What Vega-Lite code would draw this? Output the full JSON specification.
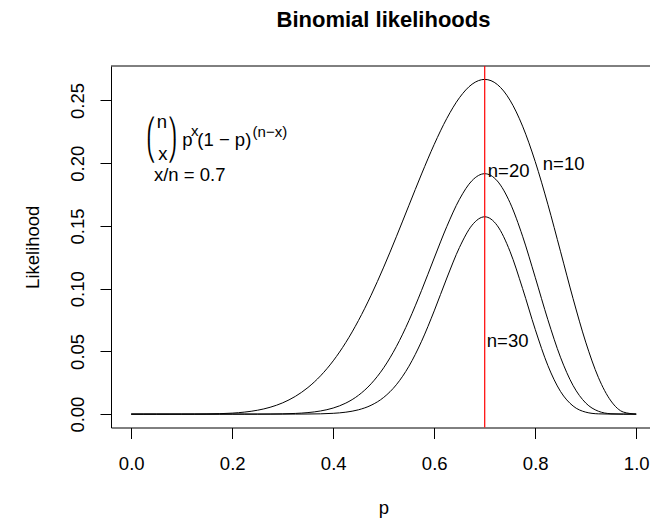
{
  "$schema": "https://vega.github.io/schema/vega-lite/v6.json",
  "autosize": {"type": "none"},
  "width": 539,
  "height": 361.5,
  "padding": {"left": 111, "top": 66, "right": 0, "bottom": 90.5},
  "background": "white",
  "config": {"view": {"stroke": null}},
  "title": {"text": "Binomial likelihoods", "font": "Liberation Sans", "fontSize": 22, "fontWeight": "bold", "color": "black", "anchor": "middle", "frame": "group", "baseline": "alphabetic", "offset": 16, "dx": 3},
  "datasets": {
    "curves": [
      {"n": "10", "p": 0, "L": 0}, {"n": "10", "p": 0.025, "L": 6.8e-10}, {"n": "10", "p": 0.05, "L": 8.04e-8}, {"n": "10", "p": 0.075, "L": 1.268e-6},
      {"n": "10", "p": 0.1, "L": 8.748e-6}, {"n": "10", "p": 0.125, "L": 3.833e-5}, {"n": "10", "p": 0.15, "L": 1.2591e-4}, {"n": "10", "p": 0.175, "L": 3.387e-4},
      {"n": "10", "p": 0.2, "L": 7.8643e-4}, {"n": "10", "p": 0.225, "L": 0.00163066}, {"n": "10", "p": 0.25, "L": 0.0030899}, {"n": "10", "p": 0.275, "L": 0.00543906},
      {"n": "10", "p": 0.3, "L": 0.00900169}, {"n": "10", "p": 0.325, "L": 0.0141343}, {"n": "10", "p": 0.35, "L": 0.021203}, {"n": "10", "p": 0.375, "L": 0.030552},
      {"n": "10", "p": 0.4, "L": 0.0424673}, {"n": "10", "p": 0.425, "L": 0.0571356}, {"n": "10", "p": 0.45, "L": 0.074603}, {"n": "10", "p": 0.475, "L": 0.0947358},
      {"n": "10", "p": 0.5, "L": 0.1171875}, {"n": "10", "p": 0.525, "L": 0.141377}, {"n": "10", "p": 0.55, "L": 0.166477}, {"n": "10", "p": 0.575, "L": 0.191436},
      {"n": "10", "p": 0.6, "L": 0.214991}, {"n": "10", "p": 0.625, "L": 0.235741}, {"n": "10", "p": 0.65, "L": 0.25222}, {"n": "10", "p": 0.675, "L": 0.263002},
      {"n": "10", "p": 0.7, "L": 0.266828}, {"n": "10", "p": 0.725, "L": 0.262752}, {"n": "10", "p": 0.75, "L": 0.250282}, {"n": "10", "p": 0.775, "L": 0.229531},
      {"n": "10", "p": 0.8, "L": 0.201327}, {"n": "10", "p": 0.825, "L": 0.167292}, {"n": "10", "p": 0.85, "L": 0.129834}, {"n": "10", "p": 0.875, "L": 0.0920381},
      {"n": "10", "p": 0.9, "L": 0.0573956}, {"n": "10", "p": 0.925, "L": 0.029333}, {"n": "10", "p": 0.95, "L": 0.0104751}, {"n": "10", "p": 0.975, "L": 0.00157049},
      {"n": "10", "p": 1, "L": 0},
      {"n": "20", "p": 0, "L": 0}, {"n": "20", "p": 0.025, "L": 0}, {"n": "20", "p": 0.05, "L": 0}, {"n": "20", "p": 0.075, "L": 4.3e-12},
      {"n": "20", "p": 0.1, "L": 2.06e-10}, {"n": "20", "p": 0.125, "L": 3.955e-9}, {"n": "20", "p": 0.15, "L": 4.27e-8}, {"n": "20", "p": 0.175, "L": 3.088e-7},
      {"n": "20", "p": 0.2, "L": 1.6647e-6}, {"n": "20", "p": 0.225, "L": 7.1573e-6}, {"n": "20", "p": 0.25, "L": 2.5699e-5}, {"n": "20", "p": 0.275, "L": 7.9629e-5},
      {"n": "20", "p": 0.3, "L": 2.18108e-4}, {"n": "20", "p": 0.325, "L": 5.37737e-4}, {"n": "20", "p": 0.35, "L": 0.00121009}, {"n": "20", "p": 0.375, "L": 0.00251247},
      {"n": "20", "p": 0.4, "L": 0.00485434}, {"n": "20", "p": 0.425, "L": 0.00878689}, {"n": "20", "p": 0.45, "L": 0.0149808}, {"n": "20", "p": 0.475, "L": 0.0241574},
      {"n": "20", "p": 0.5, "L": 0.0369644}, {"n": "20", "p": 0.525, "L": 0.0537996}, {"n": "20", "p": 0.55, "L": 0.0745987}, {"n": "20", "p": 0.575, "L": 0.0986434},
      {"n": "20", "p": 0.6, "L": 0.124412}, {"n": "20", "p": 0.625, "L": 0.149586}, {"n": "20", "p": 0.65, "L": 0.17123}, {"n": "20", "p": 0.675, "L": 0.186182},
      {"n": "20", "p": 0.7, "L": 0.19164}, {"n": "20", "p": 0.725, "L": 0.185829}, {"n": "20", "p": 0.75, "L": 0.16861}, {"n": "20", "p": 0.775, "L": 0.141809},
      {"n": "20", "p": 0.8, "L": 0.1091}, {"n": "20", "p": 0.825, "L": 0.0753308}, {"n": "20", "p": 0.85, "L": 0.0453732}, {"n": "20", "p": 0.875, "L": 0.0228011},
      {"n": "20", "p": 0.9, "L": 0.00886705}, {"n": "20", "p": 0.925, "L": 0.00231598}, {"n": "20", "p": 0.95, "L": 2.95348e-4}, {"n": "20", "p": 0.975, "L": 6.6388e-6},
      {"n": "20", "p": 1, "L": 0},
      {"n": "30", "p": 0, "L": 0}, {"n": "30", "p": 0.025, "L": 0}, {"n": "30", "p": 0.05, "L": 0}, {"n": "30", "p": 0.075, "L": 0},
      {"n": "30", "p": 0.1, "L": 0}, {"n": "30", "p": 0.125, "L": 0}, {"n": "30", "p": 0.15, "L": 1.65e-11}, {"n": "30", "p": 0.175, "L": 3.2e-10},
      {"n": "30", "p": 0.2, "L": 4.03e-9}, {"n": "30", "p": 0.225, "L": 3.59e-8}, {"n": "30", "p": 0.25, "L": 2.4426e-7}, {"n": "30", "p": 0.275, "L": 1.3322e-6},
      {"n": "30", "p": 0.3, "L": 6.0392e-6}, {"n": "30", "p": 0.325, "L": 2.33794e-5}, {"n": "30", "p": 0.35, "L": 7.8923e-5}, {"n": "30", "p": 0.375, "L": 2.36118e-4},
      {"n": "30", "p": 0.4, "L": 6.34121e-4}, {"n": "30", "p": 0.425, "L": 0.0015443}, {"n": "30", "p": 0.45, "L": 0.00343778}, {"n": "30", "p": 0.475, "L": 0.00703966},
      {"n": "30", "p": 0.5, "L": 0.0133245}, {"n": "30", "p": 0.525, "L": 0.0233964}, {"n": "30", "p": 0.55, "L": 0.038201}, {"n": "30", "p": 0.575, "L": 0.0580872},
      {"n": "30", "p": 0.6, "L": 0.0822751}, {"n": "30", "p": 0.625, "L": 0.108472}, {"n": "30", "p": 0.65, "L": 0.132845}, {"n": "30", "p": 0.675, "L": 0.15062},
      {"n": "30", "p": 0.7, "L": 0.157292}, {"n": "30", "p": 0.725, "L": 0.150192}, {"n": "30", "p": 0.75, "L": 0.129809}, {"n": "30", "p": 0.775, "L": 0.100124},
      {"n": "30", "p": 0.8, "L": 0.0675643}, {"n": "30", "p": 0.825, "L": 0.0387647}, {"n": "30", "p": 0.85, "L": 0.018121}, {"n": "30", "p": 0.875, "L": 0.00645533},
      {"n": "30", "p": 0.9, "L": 0.00156548}, {"n": "30", "p": 0.925, "L": 2.08969e-4}, {"n": "30", "p": 0.95, "L": 9.5165e-6}, {"n": "30", "p": 0.975, "L": 3.2e-8},
      {"n": "30", "p": 1, "L": 0}
    ],
    "texts": [
      {"p": 0.8150, "L": 0.19459, "label": "n=10"},
      {"p": 0.7061, "L": 0.18925, "label": "n=20"},
      {"p": 0.7042, "L": 0.05374, "label": "n=30"},
      {"p": 0.0451, "L": 0.18543, "label": "x/n = 0.7"},
      {"p": 0.1012, "L": 0.21349, "label": "p"},
      {"p": 0.1309, "L": 0.21349, "label": "(1 − p)"},
      {"p": 0.0507, "L": 0.22784, "label": "n"},
      {"p": 0.0535, "L": 0.20257, "label": "x"}
    ],
    "sups": [
      {"p": 0.1186, "L": 0.22170, "label": "x"},
      {"p": 0.2404, "L": 0.22090, "label": "(n−x)"}
    ],
    "parens": [
      {"p": 0.0390, "L": 0.22266, "label": "⎛"},
      {"p": 0.0390, "L": 0.20456, "label": "⎝"},
      {"p": 0.0816, "L": 0.22266, "label": "⎞"},
      {"p": 0.0816, "L": 0.20456, "label": "⎠"}
    ],
    "vline": [{"p": 0.7}],
    "frame": [{"L": 0.277501}]
  },
  "layer": [
    {
      "data": {"name": "curves"},
      "mark": {"type": "line", "interpolate": "monotone", "color": "black", "strokeWidth": 1},
      "encoding": {
        "x": {"field": "p", "type": "quantitative", "scale": {"domain": [-0.04, 1.0273], "nice": false, "zero": false},
          "axis": {"values": [0, 0.2, 0.4, 0.6, 0.8, 1], "format": ".1f", "grid": false,
            "domain": true, "domainColor": "black", "domainWidth": 1,
            "ticks": true, "tickColor": "black", "tickSize": 11, "tickWidth": 1,
            "labelFont": "Liberation Sans", "labelFontSize": 18.5, "labelColor": "black",
            "labelBaseline": "alphabetic", "labelAlign": "center", "labelPadding": 30.8, "labelFlush": false, "labelOverlap": false,
            "title": "p", "titleFont": "Liberation Sans", "titleFontSize": 18.5, "titleFontWeight": "normal", "titleColor": "black",
            "titleBaseline": "alphabetic", "titleAlign": "center", "titleX": 272.5, "titleY": 85.5}},
        "y": {"field": "L", "type": "quantitative", "scale": {"domain": [-0.010673, 0.277501], "nice": false, "zero": false},
          "axis": {"values": [0, 0.05, 0.1, 0.15, 0.2, 0.25], "format": ".2f", "grid": false,
            "domain": true, "domainColor": "black", "domainWidth": 1,
            "ticks": true, "tickColor": "black", "tickSize": 11, "tickWidth": 1,
            "labelFont": "Liberation Sans", "labelFontSize": 18.5, "labelColor": "black",
            "labelAngle": -90, "labelAlign": "center", "labelBaseline": "alphabetic", "labelPadding": 16.7, "labelFlush": false, "labelOverlap": false,
            "title": "Likelihood", "titleFont": "Liberation Sans", "titleFontSize": 18.5, "titleFontWeight": "normal", "titleColor": "black",
            "titleAngle": -90, "titleBaseline": "alphabetic", "titleAlign": "center", "titleX": -73, "titleY": 180.75}},
        "detail": {"field": "n", "type": "nominal"}
      }
    },
    {
      "data": {"name": "frame"},
      "mark": {"type": "rule", "color": "black", "strokeWidth": 1},
      "encoding": {"y": {"field": "L", "type": "quantitative", "title": "Likelihood"}}
    },
    {
      "data": {"name": "vline"},
      "mark": {"type": "rule", "color": "#FF0000", "strokeWidth": 1.2},
      "encoding": {"x": {"field": "p", "type": "quantitative", "title": "p"}}
    },
    {
      "data": {"name": "texts"},
      "mark": {"type": "text", "align": "left", "baseline": "alphabetic", "font": "Liberation Sans", "fontSize": 18.5, "color": "black"},
      "encoding": {
        "x": {"field": "p", "type": "quantitative", "title": "p"},
        "y": {"field": "L", "type": "quantitative", "title": "Likelihood"},
        "text": {"field": "label"}
      }
    },
    {
      "data": {"name": "sups"},
      "mark": {"type": "text", "align": "left", "baseline": "alphabetic", "font": "Liberation Sans", "fontSize": 15, "color": "black"},
      "encoding": {
        "x": {"field": "p", "type": "quantitative", "title": "p"},
        "y": {"field": "L", "type": "quantitative", "title": "Likelihood"},
        "text": {"field": "label"}
      }
    },
    {
      "data": {"name": "parens"},
      "mark": {"type": "text", "align": "center", "baseline": "alphabetic", "font": "DejaVu Sans", "fontSize": 19.5, "color": "black"},
      "encoding": {
        "x": {"field": "p", "type": "quantitative", "title": "p"},
        "y": {"field": "L", "type": "quantitative", "title": "Likelihood"},
        "text": {"field": "label"}
      }
    }
  ]
}
